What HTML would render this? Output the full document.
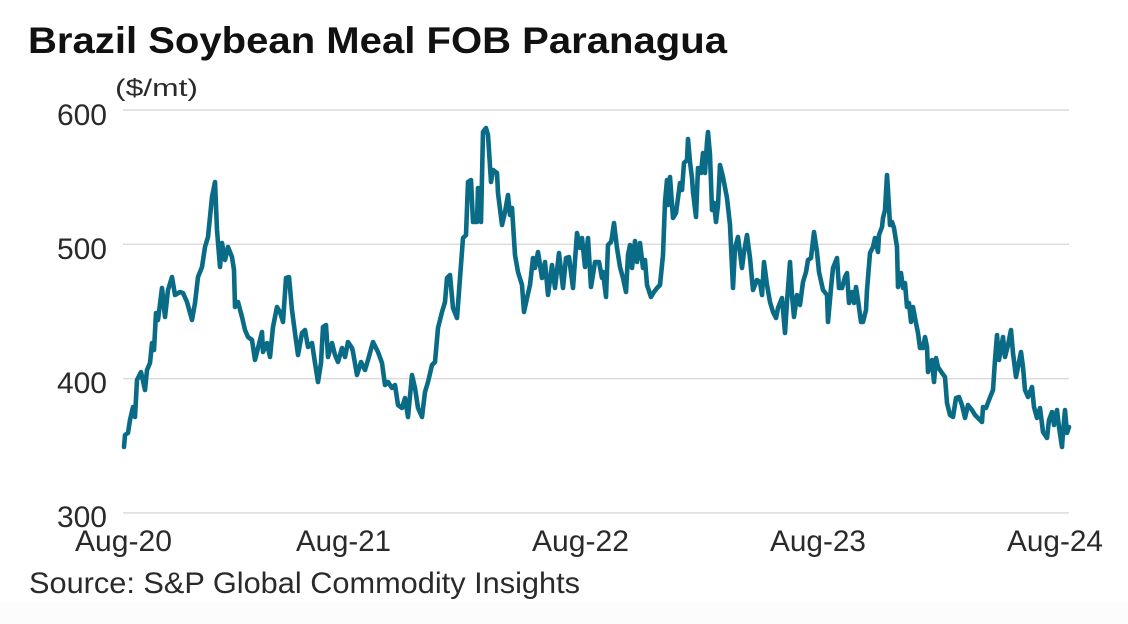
<!DOCTYPE html>
<html>
<head>
<meta charset="utf-8">
<style>
  html, body { margin: 0; padding: 0; background: #ffffff; }
  body { width: 1128px; height: 624px; overflow: hidden; }
  svg { display: block; }
  text { font-family: "Liberation Sans", "DejaVu Sans", sans-serif; }
</style>
</head>
<body>
<svg width="1128" height="624" viewBox="0 0 1128 624" xmlns="http://www.w3.org/2000/svg">
  <rect x="0" y="0" width="1128" height="624" fill="#ffffff"/>
  <rect x="0" y="603" width="1128" height="21" fill="#fcfcfc"/>

  <!-- Title -->
  <text x="28" y="53" font-size="37" font-weight="bold" fill="#111111" textLength="699" lengthAdjust="spacingAndGlyphs">Brazil Soybean Meal FOB Paranagua</text>

  <!-- Unit label -->
  <text x="115" y="96" font-size="24" fill="#2a2a2a" textLength="83" lengthAdjust="spacingAndGlyphs">($/mt)</text>

  <!-- Gridlines -->
  <g stroke="#dcdcdc" stroke-width="1.5">
    <line x1="123" y1="110" x2="1069" y2="110"/>
    <line x1="123" y1="244.3" x2="1069" y2="244.3"/>
    <line x1="123" y1="378.6" x2="1069" y2="378.6"/>
    <line x1="123" y1="512.9" x2="1069" y2="512.9"/>
  </g>

  <!-- Y axis labels -->
  <g font-size="30" fill="#2a2a2a" text-anchor="end">
    <text x="107" y="125">600</text>
    <text x="107" y="259">500</text>
    <text x="107" y="393">400</text>
    <text x="107" y="527">300</text>
  </g>

  <!-- X axis labels -->
  <g font-size="30" fill="#2a2a2a" text-anchor="middle">
    <text x="123.5" y="551" textLength="97" lengthAdjust="spacingAndGlyphs">Aug-20</text>
    <text x="343.5" y="551" textLength="95" lengthAdjust="spacingAndGlyphs">Aug-21</text>
    <text x="580.5" y="551" textLength="97" lengthAdjust="spacingAndGlyphs">Aug-22</text>
    <text x="818" y="551" textLength="96" lengthAdjust="spacingAndGlyphs">Aug-23</text>
    <text x="1055" y="551" textLength="96" lengthAdjust="spacingAndGlyphs">Aug-24</text>
  </g>

  <!-- Series -->
  <polyline fill="none" stroke="#0a6b87" stroke-width="4.6" stroke-linejoin="round" stroke-linecap="round"
    points="124,447 125,435 128,433 130,420 133,407 135,417 137,380 141,372 145,390 147,370 150,363 152,343 154,350 156,313 158,320 162,288 165,317 168,290 172,277 175,295 180,292 183,293 187,302 192,320 195,303 198,277 202,267 205,247 208,237 212,197 215,182 217,230 220,267 222,243 225,260 228,247 232,257 234,270 235,307 238,302 242,317 245,330 248,337 252,340 255,360 262,332 263,352 267,343 270,357 273,327 277,307 280,312 283,322 286,278 289,277 292,310 295,333 298,355 302,333 305,330 308,347 312,343 315,363 318,382 321,363 323,327 326,325 328,357 332,343 335,355 338,362 342,348 345,357 348,342 352,348 353,352 357,375 361,362 365,370 368,360 373,342 378,352 382,363 385,385 388,382 392,388 395,385 398,405 402,408 405,398 408,417 412,375 415,388 418,408 422,417 425,392 428,382 432,365 435,362 438,328 442,312 445,302 447,278 450,275 453,308 457,318 460,278 463,238 466,235 468,182 471,180 473,222 477,222 478,188 481,222 483,132 486,128 488,135 491,182 493,170 497,173 498,193 502,225 505,212 508,195 510,215 512,208 515,255 518,272 522,285 524,312 527,298 530,285 533,258 535,268 538,252 542,278 545,262 548,295 552,265 555,288 559,253 563,288 566,258 569,257 573,288 577,233 580,248 582,238 585,267 588,238 591,287 595,262 599,262 602,278 603,272 606,297 608,245 611,242 612,237 614,223 617,248 620,267 623,278 626,292 628,255 630,245 632,268 635,241 637,262 640,243 643,268 645,260 647,285 651,297 654,292 657,288 660,285 663,255 665,202 667,180 668,205 670,177 673,218 676,213 678,198 680,183 682,190 684,163 687,160 688,139 690,162 692,178 693,192 696,217 698,168 701,173 703,153 705,173 707,142 708,132 710,155 712,210 714,203 716,222 718,205 720,165 723,177 727,198 730,225 733,288 735,248 738,237 742,268 744,252 747,235 750,258 753,290 757,280 760,282 762,295 764,262 767,285 770,302 773,312 776,318 778,308 782,298 785,333 787,302 790,262 792,295 794,317 797,295 800,305 803,282 806,272 808,260 811,258 814,232 817,252 819,272 823,290 827,295 828,322 831,288 833,268 837,258 839,288 842,288 845,277 847,273 849,303 852,292 854,303 856,287 858,300 861,322 863,322 866,310 867,290 870,253 873,247 875,238 878,252 879,235 882,227 883,218 885,210 887,175 888,190 890,225 892,222 894,228 897,247 898,287 901,273 903,288 905,283 907,307 909,303 911,322 913,307 916,323 918,333 920,348 923,348 925,337 927,347 928,372 932,360 934,382 936,358 938,367 942,373 945,377 947,403 950,415 953,417 956,398 959,397 962,405 965,418 968,405 972,410 975,415 978,418 982,422 983,407 986,408 989,400 993,390 995,360 997,335 999,360 1003,337 1005,357 1008,345 1011,330 1013,353 1016,377 1018,367 1021,352 1023,367 1025,390 1028,397 1032,387 1034,407 1037,418 1040,408 1043,432 1047,438 1049,420 1052,412 1054,425 1057,410 1059,427 1062,447 1063,433 1065,410 1067,433 1069,427"/>

  <!-- Source -->
  <text x="29" y="593" font-size="30" fill="#2a2a2a" textLength="551" lengthAdjust="spacingAndGlyphs">Source: S&amp;P Global Commodity Insights</text>
</svg>
</body>
</html>
